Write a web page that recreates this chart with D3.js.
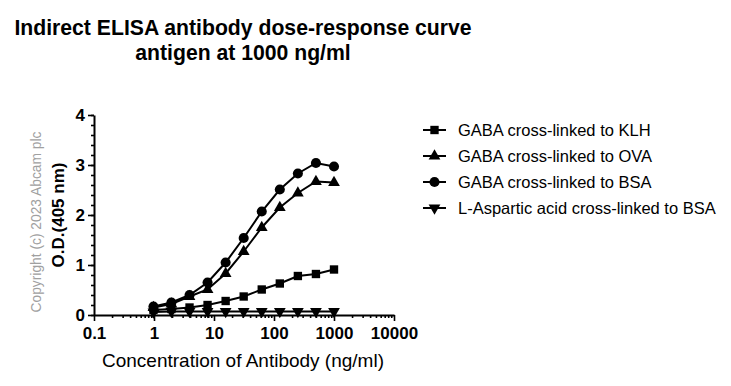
<!DOCTYPE html>
<html>
<head>
<meta charset="utf-8">
<script src="https://cdn.jsdelivr.net/npm/d3@7"></script>
<style>
  body { margin: 0; background: #fff; }
  svg { display: block; font-family: "Liberation Sans", Arial, sans-serif; }
</style>
</head>
<body>
<svg width="731" height="386"></svg>
<script>
// antibody concentrations (ng/ml), doubling dilutions from 1000
var concentrations = [0.98, 1.95, 3.91, 7.81, 15.63, 31.25, 62.5, 125, 250, 500, 1000]

var klhValues = [0.10, 0.12, 0.15, 0.20, 0.28, 0.37, 0.51, 0.63, 0.78, 0.82, 0.91]
var ovaValues = [0.15, 0.22, 0.37, 0.51, 0.83, 1.27, 1.75, 2.15, 2.44, 2.67, 2.65]
var bsaValues = [0.17, 0.25, 0.40, 0.65, 1.05, 1.54, 2.07, 2.51, 2.83, 3.04, 2.97]
var aspValues = [0.06, 0.07, 0.07, 0.07, 0.07, 0.07, 0.07, 0.07, 0.07, 0.07, 0.07]

var seriesNames = ['GABA cross-linked to KLH', 'GABA cross-linked to OVA', 'GABA cross-linked to BSA', 'L-Aspartic acid cross-linked to BSA']
var seriesSymbols = [d3.symbolSquare, d3.symbolTriangle, d3.symbolCircle, 'down']
var seriesValues = [klhValues, ovaValues, bsaValues, aspValues]

var xTicks = [0.1, 1, 10, 100, 1000, 10000]
var yTicks = [0, 1, 2, 3, 4]

var svg = d3.select('svg')

var x = d3.scaleLog().domain([0.1, 10000]).range([94, 394])
var y = d3.scaleLinear().domain([0, 4]).range([315, 115])

// titles
svg.append('text').attr('x', 243).attr('y', 35).attr('text-anchor', 'middle')
  .attr('font-size', 21.2).attr('font-weight', 'bold').text('Indirect ELISA antibody dose-response curve')
svg.append('text').attr('x', 243).attr('y', 60).attr('text-anchor', 'middle')
  .attr('font-size', 21.2).attr('font-weight', 'bold').text('antigen at 1000 ng/ml')

// minor ticks
var xMinor = []
for (var e = -1; e < 4; e++) {
  for (var m = 2; m < 10; m++) xMinor.push(m * Math.pow(10, e))
}
var yMinor = d3.range(0, 4.01, 0.2)

var xAxisG = svg.append('g').attr('transform', 'translate(0,315)')
xAxisG.call(d3.axisBottom(x).tickValues(xMinor).tickSize(3).tickFormat(''))
xAxisG.call(g => g.select('.domain').remove())
var xMajor = svg.append('g').attr('transform', 'translate(0,315)')
  .call(d3.axisBottom(x).tickValues(xTicks).tickSize(6).tickSizeOuter(0).tickPadding(6)
    .tickFormat(d => d >= 1 ? String(d) : d3.format('.1f')(d)))

var yAxisG = svg.append('g').attr('transform', 'translate(94,0)')
yAxisG.call(d3.axisLeft(y).tickValues(yMinor).tickSize(3).tickFormat(''))
yAxisG.call(g => g.select('.domain').remove())
var yMajor = svg.append('g').attr('transform', 'translate(94,0)')
  .call(d3.axisLeft(y).tickValues(yTicks).tickSize(6).tickSizeOuter(0).tickPadding(3)
    .tickFormat(d3.format('d')))

svg.selectAll('.domain').attr('stroke-width', 2).attr('stroke', '#000')
svg.selectAll('.tick line').attr('stroke-width', 1.6).attr('stroke', '#000')
xMajor.selectAll('text').attr('font-size', 17).attr('font-weight', 'bold').attr('fill', '#000')
  .attr('font-family', '"Liberation Sans", Arial, sans-serif')
yMajor.selectAll('text').attr('font-size', 17).attr('font-weight', 'bold').attr('fill', '#000')
  .attr('font-family', '"Liberation Sans", Arial, sans-serif')

// axis titles
svg.append('text').attr('x', 243).attr('y', 367).attr('text-anchor', 'middle')
  .attr('font-size', 19).text('Concentration of Antibody (ng/ml)')
svg.append('text').attr('transform', 'translate(64,215) rotate(-90)').attr('text-anchor', 'middle')
  .attr('font-size', 17).attr('font-weight', 'bold').text('O.D.(405 nm)')
svg.append('text').attr('transform', 'translate(41,222) rotate(-90)').attr('text-anchor', 'middle')
  .attr('font-size', 13.8).attr('fill', '#a0a0a0').text('Copyright (c) 2023 Abcam plc')

var symbolPath = (sym) => {
  if (sym === 'down') return d3.symbol().type(d3.symbolTriangle).size(60)() 
  if (sym === d3.symbolCircle) return d3.symbol().type(sym).size(80)()
  if (sym === d3.symbolSquare) return d3.symbol().type(sym).size(70)()
  return d3.symbol().type(sym).size(60)()
}
var symbolRotate = (sym) => sym === 'down' ? ' rotate(180)' : ''

var line = d3.line().x(d => x(d[0])).y(d => y(d[1]))

seriesValues.forEach((vals, i) => {
  var pts = concentrations.map((c, j) => [c, vals[j]])
  svg.append('path').attr('d', line(pts)).attr('fill', 'none')
    .attr('stroke', '#000').attr('stroke-width', 2)
  svg.append('g').selectAll('path').data(pts).enter().append('path')
    .attr('d', symbolPath(seriesSymbols[i]))
    .attr('transform', d => 'translate(' + x(d[0]) + ',' + y(d[1]) + ')' + symbolRotate(seriesSymbols[i]))
    .attr('fill', '#000')
})

// legend
var legend = svg.append('g')
seriesNames.forEach((name, i) => {
  var ly = 130 + i * 26
  legend.append('line').attr('x1', 423).attr('x2', 446).attr('y1', ly).attr('y2', ly)
    .attr('stroke', '#000').attr('stroke-width', 2)
  legend.append('path').attr('d', symbolPath(seriesSymbols[i]))
    .attr('transform', 'translate(434.5,' + ly + ')' + symbolRotate(seriesSymbols[i]))
    .attr('fill', '#000')
  legend.append('text').attr('x', 458).attr('y', ly + 6).attr('font-size', 16.5).text(name)
})
</script>
</body>
</html>
